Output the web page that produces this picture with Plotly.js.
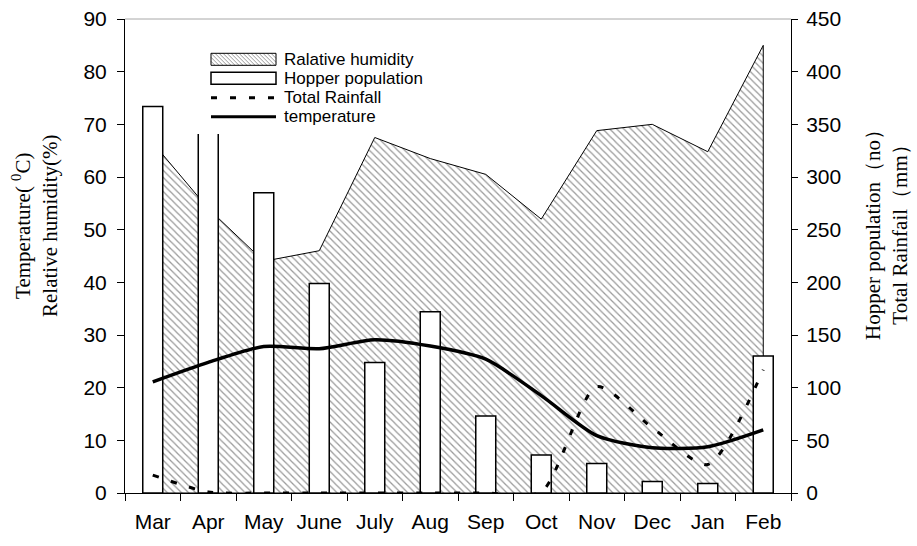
<!DOCTYPE html>
<html><head><meta charset="utf-8">
<script src="https://cdn.plot.ly/plotly-3.0.1.min.js"></script>
<style>html,body{margin:0;padding:0;background:#fff}</style>
</head><body><div id="chart" style="width:917px;height:546px"></div>
<script>
const months = ['Mar','Apr','May','June','July','Aug','Sep','Oct','Nov','Dec','Jan','Feb'];
const humidity = [66.5, 54, 44, 46, 67.5, 63.5, 60.5, 52, 68.8, 70, 64.8, 85];
const hopper = [367, 400, 285, 199, 124, 172, 73, 36, 28, 11, 9, 130];
const rainfall = [17, 1, 0, 0, 0, 0, 0, 1, 101, 62, 27, 117];
const temperature = [21.1, 24.8, 27.8, 27.4, 29.1, 27.9, 25.4, 18.5, 10.9, 8.6, 8.8, 12.0];
const legendNames = ['Ralative humidity', 'Hopper population', 'Total Rainfall', 'temperature'];

// plot-area geometry (px)
const L = 125, R = 791, T = 19, B = 493, W = R - L, H = B - T;
const px = p => (p - L) / W;
const py = p => (B - p) / H;

const areaX = months.concat([months[months.length-1], months[0]]);
const areaY = humidity.concat([0, 0]);

const traces = [
  {type:'scatter', x:areaX, y:areaY, name:legendNames[0], mode:'lines', fill:'toself',
   fillcolor:'#ffffff',
   fillpattern:{shape:'\\', fgcolor:'#9a9a9a', bgcolor:'#ffffff', size:5, solidity:0.25},
   line:{color:'#000', width:1}, xaxis:'x', yaxis:'y', hoverinfo:'skip'},
  {type:'bar', x:months, y:hopper, name:legendNames[1], width:0.36,
   marker:{color:'#ffffff', line:{color:'#000', width:1.5}}, xaxis:'x', yaxis:'y2'},
  {type:'scatter', x:months, y:rainfall, name:legendNames[2], mode:'lines',
   line:{color:'#000', width:3, dash:'6px,13px', shape:'spline', smoothing:0.7}, xaxis:'x', yaxis:'y2'},
  {type:'scatter', x:months, y:temperature, name:legendNames[3], mode:'lines',
   line:{color:'#000', width:3.5, shape:'spline', smoothing:0.7}, xaxis:'x', yaxis:'y3'}
];

const tickFont = {family:'Liberation Sans, Arial', size:21, color:'#000'};
const axisCommon = {showline:true, linecolor:'#000', linewidth:1, ticks:'outside', tickcolor:'#000',
  tickwidth:1, showgrid:false, zeroline:false, tickfont:tickFont};

// ---- hand-drawn legend (symbols as shapes, labels as text) ----
const shapes = [
  {type:'line', xref:'paper', yref:'paper', x0:0, x1:1, y0:1, y1:1, line:{color:'#a8a8a8', width:1}, layer:'above'},
  {type:'rect', xref:'paper', yref:'paper', x0:px(193), x1:px(432), y0:py(134), y1:py(46),
   fillcolor:'#ffffff', line:{width:0}, layer:'above'}
];
const symL = 211, symR = 276;
const rows = [59.3, 78.3, 97.7, 116.7];
(function(){
  const y0 = rows[0] - 6, y1 = rows[0] + 6;
  let d = '';
  for (let c = symL - y1; c <= symR - y0; c += 4) {
    const ya = Math.max(y0, symL - c), yb = Math.min(y1, symR - c);
    if (yb <= ya) continue;
    d += 'M' + px(ya + c) + ',' + py(ya) + 'L' + px(yb + c) + ',' + py(yb);
  }
  shapes.push({type:'path', xref:'paper', yref:'paper', path:d, line:{color:'#9a9a9a', width:1}, layer:'above'});
  shapes.push({type:'rect', xref:'paper', yref:'paper', x0:px(symL), x1:px(symR), y0:py(y1), y1:py(y0),
    line:{color:'#000', width:1}, fillcolor:'rgba(0,0,0,0)', layer:'above'});
})();
shapes.push({type:'rect', xref:'paper', yref:'paper', x0:px(symL), x1:px(symR), y0:py(rows[1]+6), y1:py(rows[1]-6),
  line:{color:'#000', width:1.5}, fillcolor:'#ffffff', layer:'above'});
shapes.push({type:'line', xref:'paper', yref:'paper', x0:px(symL), x1:px(symR), y0:py(rows[2]), y1:py(rows[2]),
  line:{color:'#000', width:3, dash:'6px,13px'}, layer:'above'});
shapes.push({type:'line', xref:'paper', yref:'paper', x0:px(symL), x1:px(symR), y0:py(rows[3]), y1:py(rows[3]),
  line:{color:'#000', width:3}, layer:'above'});

const annotations = legendNames.map((n, i) => ({
  text:n, xref:'paper', yref:'paper', x:px(282), y:py(rows[i]), xanchor:'left', yanchor:'middle',
  showarrow:false, font:{family:'Liberation Sans, Arial', size:17, color:'#000'}
}));
annotations.push({text:'Temperature( <sup>0</sup>C)<br>Relative humidity(%)', xref:'paper', yref:'paper',
  x:px(35), y:py(226), xanchor:'center', yanchor:'middle', textangle:-90, showarrow:false,
  font:{family:'Liberation Serif, Times New Roman', size:21, color:'#000'}});
annotations.push({text:'Hopper population\uFF08no\uFF09<br>Total Rainfail\uFF08mm\uFF09', xref:'paper', yref:'paper',
  x:px(886), y:py(230), xanchor:'center', yanchor:'middle', textangle:-90, showarrow:false,
  font:{family:'Liberation Serif, Times New Roman', size:21, color:'#000'}});

const layout = {
  width:917, height:546, margin:{l:L, r:917-R, t:T, b:546-B},
  paper_bgcolor:'#fff', plot_bgcolor:'#fff',
  font:{family:'Liberation Sans, Arial', size:17, color:'#000'},
  showlegend:false,
  xaxis:Object.assign({}, axisCommon, {type:'category', categoryorder:'array', categoryarray:months,
    range:[-0.5, 11.5], tickson:'boundaries', ticklen:7, ticklabelstandoff:10}),
  yaxis:Object.assign({}, axisCommon, {range:[0,90], tick0:0, dtick:10, ticklen:7, ticklabelstandoff:6}),
  yaxis2:Object.assign({}, axisCommon, {overlaying:'y', side:'right', range:[0,450], tick0:0, dtick:50,
    ticklen:6, ticklabelstandoff:4}),
  yaxis3:{overlaying:'y', range:[0,90], visible:false, showgrid:false, zeroline:false},
  shapes:shapes,
  annotations:annotations
};

Plotly.newPlot('chart', traces, layout, {displayModeBar:false, staticPlot:true});
</script></body></html>
